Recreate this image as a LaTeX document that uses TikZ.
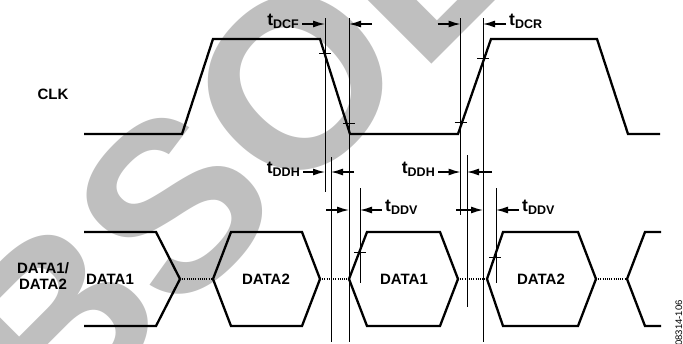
\documentclass[tikz,border=0pt]{standalone}
\usepackage{fontspec}
\setmainfont{Liberation Sans}
\usetikzlibrary{arrows.meta,calc}
\newcommand\tname[1]{{\fontsize{17.5}{18}\selectfont t}\raisebox{-3pt}{\fontsize{12.5}{13}\selectfont #1}}% t with lowered index

\begin{document}
\begin{tikzpicture}[x=1pt, y=-1pt,
    font=\fontsize{15}{16}\selectfont\bfseries,
    >={Latex[length=12pt,width=7pt]},
    wave/.style={line width=2.3pt},
    guide/.style={line width=0.9pt},
    dim/.style={line width=1.3pt, ->},
    gap/.style={line width=2.3pt, dash pattern=on 1pt off 1.2pt},
    tlab/.style={inner xsep=3pt, inner ysep=0pt}]
   \useasboundingbox (0,0) rectangle (683,343);
   \clip (0,0) rectangle (683,343);

   % watermark
   \node[text=black!25, font=\fontsize{240}{240}\selectfont\bfseries, rotate=45,
         anchor=base west, inner sep=0pt] (obsolete) at (-79,575) {OBSOLETE};

   % clock
   \node (clk) at (53,94) {CLK};
   \draw[wave] (84,134) -- (182,134) -- (213,39) -- (320,39) -- (350,134)
      -- (458,134) -- (491,39) -- (597,39) -- (628,134) -- (660,134);

   % data lines
   \node[align=center] (data) at (43,276.5) {DATA1/\\DATA2};
   \draw[wave] (84,232) -- (156,232) -- (180,279) -- (156,326) -- (84,326);
   \draw[wave] (213,279) -- (231,232) -- (302,232) -- (320,279) -- (302,326) -- (231,326) -- cycle;
   \draw[wave] (349,279) -- (367,232) -- (440,232) -- (458,279) -- (440,326) -- (367,326) -- cycle;
   \draw[wave] (487,279) -- (503,232) -- (578,232) -- (596,279) -- (578,326) -- (503,326) -- cycle;
   \draw[wave] (661,232) -- (645,232) -- (627,279) -- (645,326) -- (661,326);
   \foreach \a/\b in {180/213, 320/349, 458/487, 596/627}
      \draw[gap] (\a,279) -- (\b,279);
   \node (da) at (110,279) {DATA1};
   \node (db) at (266,279) {DATA2};
   \node (dc) at (404,279) {DATA1};
   \node (dd) at (541,279) {DATA2};

   % guide lines and crossing marks
   \foreach \x/\ya/\yb in {325/18/192, 349/18/342, 331/157/342, 360/188/283,
                           460.5/18/215, 483/18/342, 467/155/307, 496/188/283}
      \draw[guide] (\x,\ya) -- (\x,\yb);
   \foreach \x/\y in {325/53, 349/123, 460.5/122, 483/58, 360/252, 495/257}
      \draw[guide] (\x-6,\y) -- (\x+6,\y);

   % tDCF
   \coordinate (dcf1) at (325,24);
   \coordinate (dcf2) at (349,24);
   \node[tlab, anchor=base east] (tdcf) at (302,25) {\tname{DCF}};
   \draw[dim] (tdcf.east |- dcf1) -- (dcf1);
   \draw[dim] ($(dcf2)+(23,0)$) -- (dcf2);

   % tDCR
   \coordinate (dcr1) at (460.5,24);
   \coordinate (dcr2) at (483,24);
   \node[tlab, anchor=base west] (tdcr) at (506,25) {\tname{DCR}};
   \draw[dim] ($(dcr1)+(-23,0)$) -- (dcr1);
   \draw[dim] (tdcr.west |- dcr2) -- (dcr2);

   % tDDH
   \coordinate (ddh1) at (325,172);
   \coordinate (ddh2) at (331,172);
   \node[tlab, anchor=base east] (tddh) at (303,173) {\tname{DDH}};
   \draw[dim] (tddh.east |- ddh1) -- (ddh1);
   \draw[dim] ($(ddh2)+(23,0)$) -- (ddh2);

   \coordinate (ddh3) at (460.5,172);
   \coordinate (ddh4) at (467,172);
   \node[tlab, anchor=base east] (tddhb) at (438,173) {\tname{DDH}};
   \draw[dim] (tddhb.east |- ddh3) -- (ddh3);
   \draw[dim] ($(ddh4)+(25,0)$) -- (ddh4);

   % tDDV
   \coordinate (ddv1) at (349,210);
   \coordinate (ddv2) at (360,210);
   \node[tlab, anchor=base west] (tddv) at (382,211) {\tname{DDV}};
   \draw[dim] ($(ddv1)+(-23,0)$) -- (ddv1);
   \draw[dim] (tddv.west |- ddv2) -- (ddv2);

   \coordinate (ddv3) at (483,210);
   \coordinate (ddv4) at (496,210);
   \node[tlab, anchor=base west] (tddvb) at (519,211) {\tname{DDV}};
   \draw[dim] ($(ddv3)+(-27,0)$) -- (ddv3);
   \draw[dim] (tddvb.west |- ddv4) -- (ddv4);

   % figure number
   \node[font=\fontsize{9.5}{10}\selectfont, rotate=90, anchor=base east, inner sep=0pt]
      (fig) at (682,300) {08314-106};
\end{tikzpicture}
\end{document}
